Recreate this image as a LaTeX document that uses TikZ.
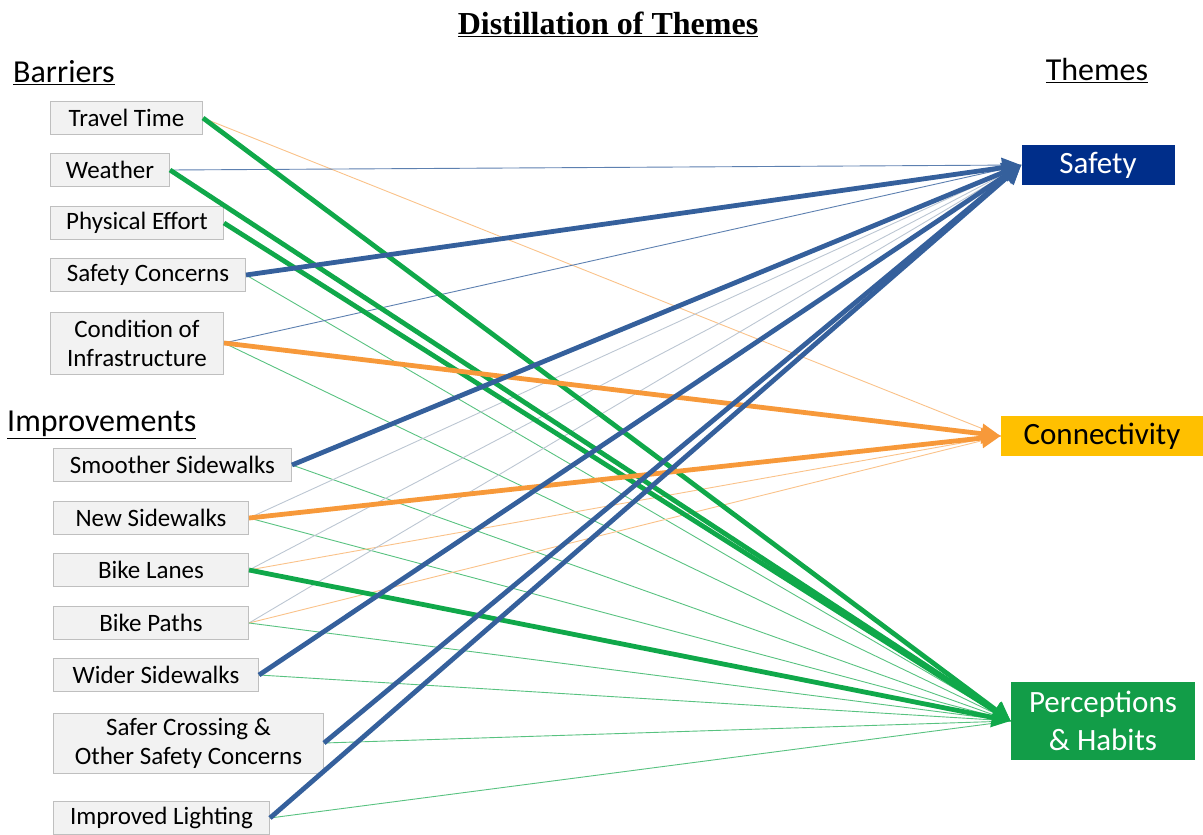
\documentclass[tikz,border=0pt]{standalone}
\usepackage{fontspec}
\setmainfont{Carlito}
\newfontfamily\titlefont{Liberation Serif}
\usetikzlibrary{arrows.meta}
\definecolor{boxfill}{HTML}{F2F2F2}
\definecolor{boxline}{HTML}{BFBFBF}
\definecolor{navy}{HTML}{002E8A}
\definecolor{gold}{HTML}{FFC000}
\definecolor{leaf}{HTML}{129D48}
\definecolor{bluel}{HTML}{35609C}
\definecolor{greenl}{HTML}{10A84A}
\definecolor{orangel}{HTML}{F7993A}
\definecolor{greyl}{HTML}{BCC6D2}
\tikzset{
  item/.style={draw=boxline, fill=boxfill, line width=1pt, anchor=west, align=center,
    minimum height=33pt, inner sep=0pt, font=\fontsize{25}{29}\selectfont},
  theme/.style={align=center, inner sep=0pt, font=\fontsize{31}{38}\selectfont},
  head/.style={anchor=west, inner sep=0pt, font=\fontsize{32}{36}\selectfont},
  strong/.style={line width=4.8pt, -{Triangle[length=19pt,width=19pt]}},
  weak/.style={line width=0.9pt},
}
\begin{document}
\begin{tikzpicture}[x=1pt,y=-1pt]
\useasboundingbox (0,0) rectangle (1203,835);
\node [inner sep=0pt] (title) at (608,24) {\titlefont\bfseries\fontsize{32}{36}\selectfont\underline{Distillation of Themes}};
\node [head] (bar) at (13,73) {\underline{Barriers}};
\node [head] (imp) at (7,425) {\underline{Improvements}};
\node [head, anchor=center] (thm) at (1097,71) {\underline{Themes}};

\node [item, minimum width=152pt] (tt) at (50,118) {Travel Time};
\node [item, minimum width=119pt] (we) at (50,170) {Weather};
\node [item, minimum width=173pt] (pe) at (50,223) {Physical Effort};
\node [item, minimum width=195pt] (sc) at (50,275) {Safety Concerns};
\node [item, minimum width=173pt, minimum height=62pt] (ci) at (50,343) {Condition of\\Infrastructure};
\node [item, minimum width=238pt] (ss) at (53,465) {Smoother Sidewalks};
\node [item, minimum width=195pt] (ns) at (53,518) {New Sidewalks};
\node [item, minimum width=195pt] (bl) at (53,570) {Bike Lanes};
\node [item, minimum width=195pt] (bp) at (53,623) {Bike Paths};
\node [item, minimum width=205pt] (ws) at (53,675) {Wider Sidewalks};
\node [item, minimum width=270pt, minimum height=60pt] (cr) at (53,743) {Safer Crossing \&\\Other Safety Concerns};
\node [item, minimum width=216pt] (il) at (53,818) {Improved Lighting};

\node [theme, fill=navy, text=white, minimum width=153pt, minimum height=40pt] (S) at (1098,165) {Safety};
\node [theme, fill=gold, text=black, minimum width=202pt, minimum height=40pt] (Co) at (1102,436) {Connectivity};
\node [theme, fill=leaf, text=white, minimum width=184pt, minimum height=78pt] (P) at (1103,721) {Perceptions\\\& Habits};

\draw [weak, orangel!60] (tt.east) -- (Co.west);
\draw [weak, bluel!80] (we.east) -- (S.west);
\draw [weak, greenl!70] (sc.east) -- (P.west);
\draw [weak, bluel!80] (ci.east) -- (S.west);
\draw [weak, greenl!70] (ci.east) -- (P.west);
\draw [weak, greenl!70] (ss.east) -- (P.west);
\draw [weak, greyl] (ns.east) -- (S.west);
\draw [weak, greenl!70] (ns.east) -- (P.west);
\draw [weak, greyl] (bl.east) -- (S.west);
\draw [weak, orangel!60] (bl.east) -- (Co.west);
\draw [weak, greyl] (bp.east) -- (S.west);
\draw [weak, orangel!60] (bp.east) -- (Co.west);
\draw [weak, greenl!70] (bp.east) -- (P.west);
\draw [weak, greenl!70] (ws.east) -- (P.west);
\draw [weak, greenl!70] (cr.east) -- (P.west);
\draw [weak, greenl!70] (il.east) -- (P.west);

\draw [strong, greenl] (tt.east) -- (P.west);
\draw [strong, greenl] (we.east) -- (P.west);
\draw [strong, greenl] (pe.east) -- (P.west);
\draw [strong, bluel] (sc.east) -- (S.west);
\draw [strong, orangel] (ci.east) -- (Co.west);
\draw [strong, bluel] (ss.east) -- (S.west);
\draw [strong, orangel] (ns.east) -- (Co.west);
\draw [strong, greenl] (bl.east) -- (P.west);
\draw [strong, bluel] (ws.east) -- (S.west);
\draw [strong, bluel] (cr.east) -- (S.west);
\draw [strong, bluel] (il.east) -- (S.west);
\end{tikzpicture}
\end{document}
